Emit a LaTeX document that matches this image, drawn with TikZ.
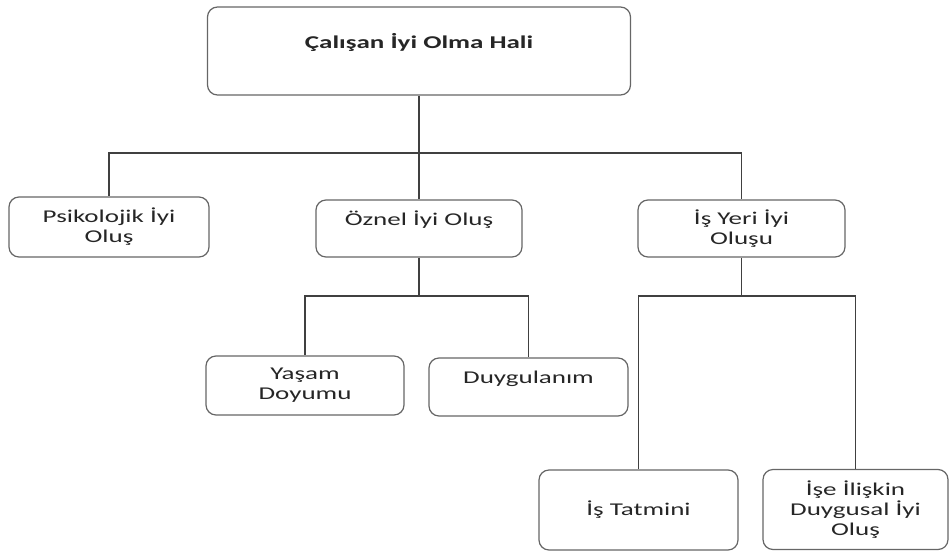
\documentclass[tikz,border=0pt]{standalone}
\usepackage{fontspec}
\setmainfont{Carlito}[FakeStretch=1.5]
\usepackage{tikz}

\begin{document}
\begin{tikzpicture}[x=1pt,y=-1pt,
  box/.style={draw=black!60,line width=1.2pt,rounded corners=10pt,align=center,
    inner sep=2pt,text=black!85,font=\fontsize{18}{20}\selectfont},
  head/.style={box,font=\fontsize{18}{20}\selectfont\bfseries},
  link/.style={black!75,line width=1.2pt}
]
\useasboundingbox (0,0) rectangle (950,552);
\node[head,minimum width=423pt,minimum height=88pt] (W) at (419,51) {Çalışan İyi Olma Hali\\~};
\node[box,minimum width=200pt,minimum height=60pt] (psy) at (109,227) {Psikolojik İyi\\Oluş};
\node[box,minimum width=206pt,minimum height=57pt] (ozn) at (419,228.5) {Öznel İyi Oluş\\~};
\node[box,minimum width=207pt,minimum height=57pt] (isy) at (741.5,228.5) {İş Yeri İyi\\Oluşu};
\node[box,minimum width=198pt,minimum height=59pt] (yas) at (305,385.5) {Yaşam\\Doyumu};
\node[box,minimum width=199pt,minimum height=58pt] (duy) at (528.5,387) {Duygulanım\\~};
\node[box,minimum width=199pt,minimum height=80pt] (ist) at (638.5,510) {İş Tatmini};
\node[box,minimum width=185pt,minimum height=80pt] (ise) at (855.5,509.5) {İşe İlişkin\\Duygusal İyi\\Oluş};
% branch points
\coordinate (j0) at (419,153);
\coordinate (j1) at (419,296);
\coordinate (j2) at (741.5,296);
\draw[link] (W) -- (j0);
\foreach \c in {psy,ozn,isy} \draw[link] (j0) -| (\c.north);
\draw[link] (ozn) -- (j1);
\foreach \c in {yas,duy} \draw[link] (j1) -| (\c.north);
\draw[link] (isy) -- (j2);
\foreach \c in {ist,ise} \draw[link] (j2) -| (\c.north);
\end{tikzpicture}
\end{document}
